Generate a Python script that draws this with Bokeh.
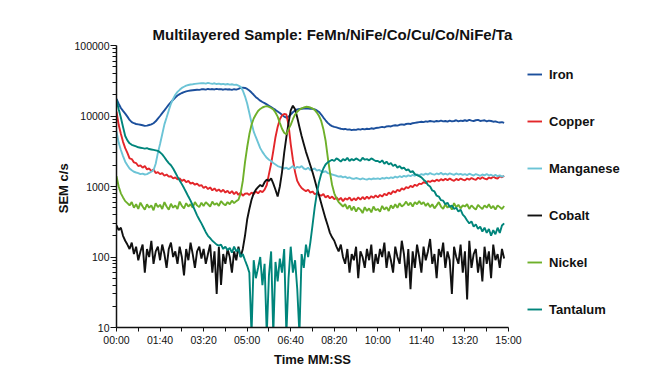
from bokeh.plotting import figure
from bokeh.models import (FixedTicker, Legend, LegendItem, NumeralTickFormatter, Range1d)
from bokeh.embed import file_html
from bokeh.resources import INLINE

TITLE = "Multilayered Sample: FeMn/NiFe/Co/Cu/Co/NiFe/Ta"
X_LABEL = "Time MM:SS"
Y_LABEL = "SEM  c/s"

TICK_SECONDS = [0, 100, 200, 300, 400, 500, 600, 700, 800, 900]
TICK_LABELS = ["00:00", "01:40", "03:20", "05:00", "06:40", "08:20",
               "10:00", "11:40", "13:20", "15:00"]
Y_TICKS = [10, 100, 1000, 10000, 100000]

# sampling instants, seconds (every 5 s from 00:00 to 14:50)
TIME = list(range(0, 895, 5))

IRON = [
    17500, 15000, 13000, 11800, 10800, 9800, 8800, 8200, 7900, 7700, 7600, 7500, 7400, 7250, 7300, 7450, 7600, 7900, 8400, 9200,
    10000, 11000, 12000, 13200, 14500, 15700, 17000, 18300, 19500, 20400, 21200, 21800, 22300, 22700, 23000, 23200, 23400, 23600, 23500, 23900,
    24000, 23700, 24200, 23900, 24100, 23800, 24300, 23900, 24000, 23600, 24100, 23800, 23900, 23500, 24000, 23700, 24200, 25000, 25300, 25000,
    24200, 23000, 21500, 20000, 18500, 17500, 16500, 15800, 15200, 14600, 14000, 13400, 12800, 12200, 11600, 11000, 10400, 9800, 9500, 9800,
    10500, 11300, 12000, 12400, 12600, 12700, 12800, 12900, 12800, 12700, 12600, 12400, 12000, 11400, 10500, 9500, 8700, 8000, 7500, 7200,
    7000, 6900, 6750, 6600, 6500, 6550, 6400, 6450, 6300, 6400, 6350, 6500, 6400, 6550, 6450, 6600, 6500, 6700, 6600, 6750,
    6800, 6900, 7000, 6900, 7100, 7200, 7100, 7300, 7400, 7300, 7500, 7600, 7500, 7700, 7800, 7700, 7900, 8000, 8100, 8200,
    8300, 8200, 8400, 8300, 8500, 8400, 8300, 8500, 8400, 8600, 8400, 8500, 8300, 8600, 8400, 8500, 8700, 8400, 8600, 8500,
    8700, 8500, 8800, 8600, 8500, 8700, 8800, 8500, 8600, 8700, 8400, 8600, 8500, 8300, 8400, 8200, 8100, 8200, 8000,
]

COPPER = [
    11500, 7500, 5600, 4300, 3500, 3000, 2500, 2450, 2200, 2150, 1950, 2000, 1850, 1950, 1750, 1800, 1650, 1750, 1550, 1600,
    1500, 1550, 1420, 1480, 1380, 1400, 1300, 1350, 1260, 1300, 1200, 1250, 1150, 1200, 1100, 1130, 1060, 1100, 1020, 1050,
    950, 1000, 920, 970, 880, 940, 860, 910, 840, 900, 820, 870, 800, 860, 780, 840, 760, 820, 740, 790,
    800, 760, 820, 780, 850, 800, 870, 830, 900, 1050, 1500, 2100, 3200, 5000, 7000, 9000, 10200, 10700, 10500, 7500,
    4000, 2400, 1600, 1200, 1050, 950, 900, 860, 900, 820, 850, 780, 800, 760, 740, 780, 700, 740, 680, 720,
    660, 700, 640, 690, 620, 680, 650, 700, 630, 680, 640, 700, 650, 710, 660, 720, 670, 730, 690, 750,
    700, 760, 720, 790, 750, 820, 780, 860, 820, 900, 860, 940, 900, 980, 950, 1020, 980, 1060, 1020, 1100,
    1080, 1150, 1120, 1190, 1160, 1220, 1180, 1250, 1200, 1270, 1220, 1290, 1230, 1300, 1240, 1200, 1280, 1230, 1300, 1250,
    1220, 1300, 1250, 1320, 1270, 1240, 1330, 1280, 1350, 1290, 1260, 1340, 1300, 1380, 1320, 1290, 1400, 1350, 1420,
]

MANGANESE = [
    6000, 4200, 3300, 2700, 2250, 2000, 1800, 1700, 1620, 1580, 1550, 1500, 1520, 1480, 1500, 1560, 1620, 1700, 2100, 3000,
    4000, 5500, 7600, 9500, 12000, 14900, 17500, 20000, 22000, 23500, 25000, 26000, 27000, 27500, 28000, 28200, 28500, 28800, 29000, 29200,
    29200, 28800, 29500, 29000, 28600, 29100, 28400, 28800, 28200, 28600, 28000, 28400, 27900, 28200, 27600, 27800, 27000, 26000, 23000, 19000,
    15000, 11000, 8000, 6000, 5000, 4200, 3500, 3100, 2800, 2550, 2400, 2300, 2150, 2050, 1950, 1900, 1850, 1800, 1850, 1750,
    1850, 1950, 1800, 1900, 1850, 1950, 1800, 1750, 1850, 1700, 1750, 1800, 1680, 1720, 1650, 1600, 1650, 1550, 1520, 1480,
    1450, 1420, 1380, 1400, 1350, 1380, 1320, 1350, 1300, 1280, 1320, 1290, 1260, 1300, 1270, 1250, 1290, 1260, 1300, 1280,
    1300, 1270, 1320, 1290, 1340, 1300, 1350, 1320, 1380, 1340, 1400, 1360, 1420, 1380, 1440, 1400, 1460, 1420, 1480, 1440,
    1500, 1460, 1520, 1480, 1550, 1500, 1470, 1530, 1490, 1560, 1480, 1520, 1470, 1540, 1500, 1460, 1530, 1480, 1510, 1460,
    1500, 1450, 1520, 1470, 1430, 1500, 1460, 1420, 1480, 1440, 1500, 1430, 1470, 1410, 1460, 1400, 1440, 1380, 1420,
]

COBALT = [
    280, 240, 260, 200, 170, 150, 130, 160, 110, 140, 90, 120, 150, 60, 130, 100, 170, 80, 120, 140,
    90, 150, 110, 70, 130, 160, 100, 120, 80, 140, 100, 55, 130, 90, 160, 110, 70, 120, 140, 95,
    130, 80, 110, 150, 60, 120, 30, 140, 40, 110, 80, 130, 100, 60, 120, 90, 140, 100, 130, 200,
    340, 480, 650, 800, 900, 980, 1050, 1000, 1150, 1250, 1200, 1300, 1100, 900, 720, 1000, 1600, 3000, 5000, 8000,
    12000, 14000, 12500, 9500, 7000, 5200, 4000, 3100, 2500, 2000, 1600, 1250, 950, 750, 580, 450, 350, 280, 220, 190,
    170, 140, 120, 150, 100, 80, 130, 60, 110, 90, 140, 50, 120, 100, 70, 130, 90, 150, 60, 110,
    80, 130, 100, 160, 70, 120, 90, 60, 140, 100, 80, 170, 110, 50, 130, 35, 120, 70, 150, 100,
    60, 140, 90, 120, 180, 80, 110, 50, 130, 100, 160, 70, 120, 90, 30, 140, 100, 80, 150, 60,
    120, 25, 170, 70, 110, 130, 60, 100, 45, 140, 80, 120, 50, 150, 90, 110, 70, 130, 95,
]

NICKEL = [
    1400, 1000, 800, 700, 620, 580, 540, 600, 500, 560, 480, 590, 520, 470, 560, 500, 540, 460, 580, 510,
    550, 480, 600, 520, 470, 570, 500, 540, 480, 610, 530, 490, 580, 520, 560, 500, 600, 540, 510, 590,
    530, 600, 560, 520, 610, 550, 580, 530, 620, 570, 540, 600, 560, 630, 580, 620, 650, 800, 1200, 2200,
    3600, 5500, 7500, 9200, 10500, 11800, 12600, 13200, 13600, 13800, 13500, 13000, 12400, 11200, 9800, 8000, 6600, 5800, 5500, 6500,
    7500, 9000, 10500, 11500, 12300, 12800, 13200, 13500, 13400, 13200, 12800, 12200, 11200, 10000, 8500, 6500, 4500, 2600, 1600, 1050,
    800, 680, 600, 560, 520, 560, 480, 540, 460, 520, 440, 500, 470, 420, 510, 450, 490, 430, 520, 460,
    480, 440, 530, 470, 510, 450, 540, 490, 560, 500, 580, 520, 550, 610, 540, 590, 520, 600, 560, 620,
    560, 600, 530, 580, 510, 560, 490, 540, 600, 520, 480, 560, 500, 540, 470, 580, 510, 550, 490, 540,
    520, 560, 480, 540, 500, 470, 550, 510, 480, 540, 500, 560, 490, 530, 470, 540, 510, 480, 530,
]

TANTALUM = [
    17000, 12500, 9500, 7000, 5200, 4500, 4100, 3900, 3800, 3700, 3600, 3550, 3500, 3450, 3500, 3400, 3350, 3300, 3250, 3200,
    3050, 2850, 2600, 2350, 2150, 2000, 1800, 1580, 1380, 1220, 1080, 950, 830, 720, 630, 540, 460, 390, 340, 300,
    260, 225, 200, 185, 170, 160, 150, 145, 150, 130, 140, 125, 135, 115, 140, 120, 130, 100, 110, 90,
    75, 60, 8, 90, 50, 70, 100, 40, 80, 8, 55, 120, 8, 85, 45, 95, 60, 130, 8, 50,
    140, 60, 90, 35, 8, 110, 70, 150, 100, 160, 280, 500, 800, 1150, 1500, 1800, 2050, 2200, 2300, 2400,
    2300, 2500, 2400, 2250, 2450, 2350, 2550, 2300, 2450, 2350, 2500, 2400, 2300, 2550, 2400, 2450, 2350, 2500, 2400, 2300,
    2300, 2200, 2350, 2100, 2250, 2050, 2150, 1950, 2050, 1850, 1950, 1800, 1850, 1700, 1750, 1600, 1650, 1500, 1450, 1400,
    1350, 1250, 1180, 1050, 1000, 880, 850, 740, 720, 640, 630, 560, 590, 510, 540, 480, 500, 440, 470, 400,
    370, 330, 300, 320, 270, 290, 250, 270, 230, 260, 220, 250, 200, 240, 210, 260, 220, 280, 300,
]

SERIES = [
    ("Iron", IRON, "#1b4f9c"),
    ("Copper", COPPER, "#e3262a"),
    ("Manganese", MANGANESE, "#6cc4d6"),
    ("Cobalt", COBALT, "#111111"),
    ("Nickel", NICKEL, "#6eb02a"),
    ("Tantalum", TANTALUM, "#00857b"),
]

FONT = "Liberation Sans"

p = figure(frame_width=392, frame_height=282, x_range=Range1d(0, 900), y_range=Range1d(10, 100000),
           y_axis_type="log", output_backend="svg", toolbar_location=None,
           min_border_left=116, min_border_right=159, min_border_top=45, min_border_bottom=46)

p.title.text = TITLE
p.title.text_font = FONT
p.title.text_font_style = "bold"
p.title.text_font_size = "15px"
p.title.text_color = "#111111"
p.title.align = "left"
p.title.offset = 36
p.title.standoff = 6

p.outline_line_color = None
p.xgrid.grid_line_color = None
p.ygrid.grid_line_color = None
p.background_fill_color = "white"
p.border_fill_color = "white"

xa = p.xaxis[0]
xa.ticker = FixedTicker(ticks=TICK_SECONDS, minor_ticks=[s + 50 for s in TICK_SECONDS[:-1]])
xa.major_label_overrides = dict(zip(TICK_SECONDS, TICK_LABELS))
xa.axis_label = X_LABEL

ya = p.yaxis[0]
ya.ticker = FixedTicker(ticks=Y_TICKS,
                        minor_ticks=[m * t for t in Y_TICKS[:-1] for m in range(2, 10)])
ya.formatter = NumeralTickFormatter(format="0")
ya.axis_label = Y_LABEL

for ax in (xa, ya):
    ax.axis_line_color = "#111111"
    ax.axis_line_width = 1.5
    ax.major_tick_line_color = "#111111"
    ax.minor_tick_line_color = "#111111"
    ax.major_tick_in = 0
    ax.minor_tick_in = 0
    ax.major_label_text_font = FONT
    ax.major_label_text_font_size = "10.5px"
    ax.major_label_text_color = "#111111"
    ax.axis_label_text_font = FONT
    ax.axis_label_text_font_style = "bold"
    ax.axis_label_text_font_size = "13px"
    ax.axis_label_text_color = "#111111"

xa.major_tick_out = 4
xa.minor_tick_out = 4
xa.major_label_standoff = 2
xa.axis_label_standoff = 3
ya.major_tick_out = 6
ya.minor_tick_out = 4
ya.major_label_standoff = 1
ya.axis_label_standoff = 0

items = []
for name, vals, color in SERIES:
    r = p.line(TIME, vals, line_color=color, line_width=1.9)
    items.append(LegendItem(label=name, renderers=[r]))

legend = Legend(items=items, location="top_left", orientation="vertical",
                label_text_font=FONT, label_text_font_style="bold",
                label_text_font_size="13px", label_text_color="#111111",
                glyph_width=15, glyph_height=20, label_height=20, label_standoff=7,
                spacing=27, padding=0, margin=19,
                border_line_color=None, background_fill_color=None, background_fill_alpha=0)
p.add_layout(legend, "right")

open("out.html", "w").write(file_html(p, INLINE))
